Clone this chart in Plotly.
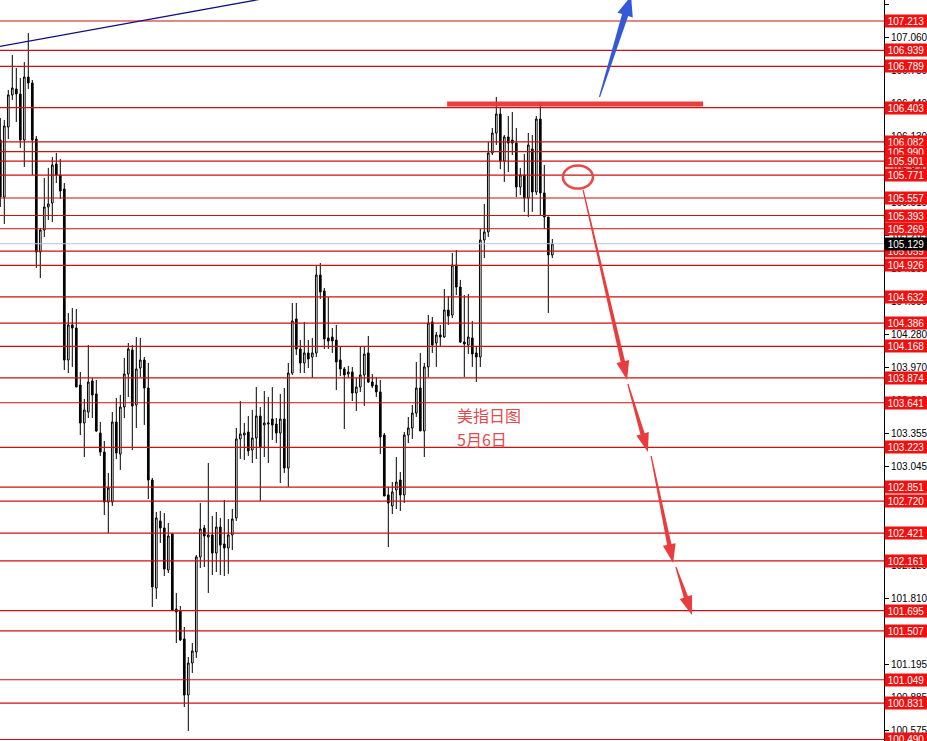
import math
import plotly.graph_objects as go

# ---------------- data ----------------
candle_index = list(range(139))

opens = [106.100, 105.566, 106.221, 106.521, 106.577, 106.530, 106.100, 106.689, 106.633, 106.109,
         105.052, 105.257, 105.473, 105.510, 105.875, 105.772, 105.641, 104.041, 104.369, 104.340,
         103.807, 103.452, 103.554, 103.845, 103.723, 103.358, 103.180, 102.712, 102.712, 103.461,
         103.161, 103.601, 103.910, 104.135, 103.620, 103.966, 104.041, 103.779, 102.918, 101.908,
         102.535, 102.469, 102.076, 102.413, 101.711, 101.692, 101.430, 100.906, 101.206, 101.309,
         102.198, 102.469, 102.385, 102.404, 102.235, 102.478, 102.319, 102.282, 102.404, 102.563,
         103.302, 103.339, 103.367, 103.199, 103.311, 103.517, 103.433, 103.442, 103.489, 103.442,
         103.358, 103.489, 103.030, 103.919, 104.425, 104.144, 104.013, 104.107, 104.069, 104.107,
         104.836, 104.687, 104.247, 104.256, 104.228, 104.041, 103.957, 103.910, 103.929, 103.732,
         103.788, 103.901, 104.107, 103.835, 103.807, 103.742, 103.339, 102.778, 102.675, 102.825,
         102.918, 102.778, 103.339, 103.405, 103.545, 103.779, 103.377, 103.976, 104.397, 104.200,
         104.275, 104.256, 104.509, 104.462, 104.930, 104.724, 104.209, 104.181, 104.247, 104.107,
         104.069, 105.164, 105.239, 105.978, 106.165, 106.343, 105.903, 106.128, 106.100, 106.071,
         105.660, 105.772, 105.557, 106.015, 105.613, 106.296, 105.604, 105.379, 105.024]

highs = [106.305, 106.287, 106.567, 106.895, 106.773, 106.680, 106.829, 107.101, 106.661, 106.137,
         105.276, 105.744, 105.838, 105.940, 105.978, 105.922, 105.697, 104.481, 104.528, 104.518,
         103.929, 103.676, 104.181, 103.873, 103.854, 103.461, 103.283, 102.984, 103.554, 103.685,
         103.714, 104.060, 104.200, 104.181, 104.256, 104.247, 104.069, 104.013, 102.937, 102.619,
         102.628, 102.609, 102.516, 102.422, 101.861, 101.739, 101.543, 101.262, 101.393, 102.216,
         102.703, 102.497, 103.077, 102.581, 102.619, 102.563, 102.731, 102.553, 102.647, 103.405,
         103.657, 103.452, 103.517, 103.573, 103.788, 103.601, 103.751, 103.695, 103.788, 103.498,
         103.723, 103.779, 104.013, 104.574, 104.574, 104.228, 104.397, 104.228, 104.247, 104.930,
         104.949, 104.715, 104.630, 104.340, 104.369, 104.172, 103.976, 103.985, 103.976, 103.873,
         104.163, 104.172, 104.266, 103.910, 103.882, 103.854, 103.358, 102.853, 102.899, 103.133,
         102.993, 103.367, 103.508, 103.620, 104.022, 104.107, 104.013, 104.462, 104.443, 104.303,
         104.369, 104.705, 104.640, 105.042, 105.070, 104.790, 104.649, 104.659, 104.406, 104.163,
         105.267, 105.501, 106.081, 106.212, 106.502, 106.399, 106.146, 106.324, 106.362, 106.212,
         105.838, 105.969, 106.165, 106.146, 106.324, 106.446, 105.866, 105.379, 105.173]

lows = [105.473, 105.314, 106.109, 106.474, 106.268, 106.025, 105.847, 106.577, 105.772, 104.902,
        104.808, 105.192, 105.351, 105.332, 105.697, 105.548, 103.947, 103.919, 103.976, 103.788,
        103.339, 103.133, 103.498, 103.498, 103.367, 103.143, 102.591, 102.422, 102.675, 103.115,
        103.012, 103.498, 103.695, 103.199, 103.405, 103.882, 103.433, 102.740, 101.730, 101.805,
        102.329, 102.020, 102.048, 101.692, 101.393, 101.412, 100.794, 100.570, 101.112, 101.253,
        102.095, 102.104, 101.861, 102.029, 102.057, 102.029, 102.020, 102.039, 102.263, 102.535,
        103.115, 103.105, 103.143, 103.077, 103.115, 102.722, 103.133, 103.077, 103.292, 103.264,
        102.890, 102.984, 102.853, 103.901, 104.088, 103.919, 103.919, 103.966, 103.873, 104.069,
        104.612, 104.144, 104.144, 104.107, 103.760, 103.891, 103.395, 103.873, 103.657, 103.564,
        103.742, 103.611, 103.826, 103.779, 103.695, 103.161, 102.768, 102.291, 102.600, 102.647,
        102.628, 102.703, 103.264, 103.302, 103.508, 103.377, 103.133, 103.882, 104.107, 103.976,
        104.172, 104.247, 104.369, 104.434, 104.649, 104.200, 103.882, 104.097, 103.976, 103.835,
        103.976, 104.995, 105.192, 105.959, 106.053, 105.828, 105.707, 105.800, 105.959, 105.566,
        105.585, 105.426, 105.379, 105.426, 105.585, 105.388, 105.267, 104.481, 104.995]

closes = [105.566, 106.231, 106.521, 106.586, 106.530, 106.100, 106.689, 106.633, 106.100, 105.052,
          105.257, 105.473, 105.501, 105.866, 105.772, 105.622, 104.041, 104.369, 104.340, 103.788,
          103.452, 103.573, 103.835, 103.714, 103.377, 103.180, 102.712, 102.843, 103.461, 103.171,
          103.601, 103.910, 104.144, 103.611, 103.957, 104.041, 103.779, 102.918, 101.917, 102.563,
          102.469, 102.085, 102.394, 101.702, 101.683, 101.421, 100.906, 101.206, 101.318, 102.198,
          102.460, 102.394, 102.404, 102.235, 102.478, 102.310, 102.282, 102.404, 102.553, 103.302,
          103.349, 103.358, 103.190, 103.311, 103.517, 103.227, 103.452, 103.452, 103.433, 103.358,
          103.489, 103.030, 103.919, 104.406, 104.144, 104.013, 104.107, 104.050, 104.107, 104.836,
          104.677, 104.238, 104.219, 104.219, 104.022, 103.957, 103.901, 103.929, 103.732, 103.788,
          103.901, 104.097, 103.835, 103.798, 103.742, 103.321, 102.768, 102.703, 102.806, 102.899,
          102.778, 103.339, 103.405, 103.545, 103.779, 103.377, 103.976, 104.387, 104.181, 104.275,
          104.256, 104.509, 104.453, 104.930, 104.724, 104.209, 104.191, 104.256, 104.097, 104.069,
          105.164, 105.239, 105.978, 106.165, 106.343, 105.903, 106.128, 106.071, 106.071, 105.660,
          105.772, 105.557, 106.053, 105.613, 106.296, 105.604, 105.379, 105.024, 105.129]

level_prices = [107.213, 106.939, 106.789, 106.403, 106.082, 105.990, 105.901, 105.771,
                105.557, 105.393, 105.269, 105.059, 104.926, 104.632, 104.386, 104.168,
                103.874, 103.641, 103.223, 102.851, 102.720, 102.421, 102.161, 101.695,
                101.507, 101.049, 100.831, 100.490]

tick_prices = [107.365, 107.060, 106.750, 106.440, 106.130, 105.820, 105.515, 105.205,
               104.895, 104.590, 104.280, 103.970, 103.660, 103.355, 103.045, 102.735,
               102.430, 102.120, 101.810, 101.505, 101.195, 100.885, 100.575]
tick_labels = ["107.365", "107.060", "106.750", "106.440", "106.130", "105.820", "105.515", "105.205",
               "104.895", "104.590", "104.280", "103.970", "103.660", "103.355", "103.045", "102.735",
               "102.430", "102.120", "101.810", "101.505", "101.195", "100.885", "100.575"]

last_price = 105.129
title_lines = ["美指日图", "5月6日"]

# hand-drawn markup, in (candle index, price)
trend_line = [(-1.0, 106.970), (80.0, 107.518)]
resistance_stroke = [(111.7, 106.436), (175.7, 106.436)]
blue_arrow = [(149.8, 106.502), (157.7, 107.447)]
red_arrows = [[(145.7, 105.632), (156.7, 103.854)],
              [(156.9, 103.816), (161.9, 103.180)],
              [(162.7, 103.143), (168.2, 102.141)],
              [(168.9, 102.104), (172.9, 101.655)]]
circle_center = (144.4, 105.753)
text_anchor = (113.7, 103.526, 103.302)

# ---------------- figure ----------------
X_RANGE = [-0.075, 220.925]
Y_RANGE = [100.4759, 107.4095]
PLOT_W, PLOT_H = 884, 741
SX = PLOT_W / (X_RANGE[1] - X_RANGE[0])
SY = PLOT_H / (Y_RANGE[1] - Y_RANGE[0])


def arrow_path(tail, tip, w0, w1, hl, hw):
    x0, y0 = tail[0] * SX, -tail[1] * SY
    x1, y1 = tip[0] * SX, -tip[1] * SY
    dx, dy = x1 - x0, y1 - y0
    L = math.hypot(dx, dy)
    ux, uy = dx / L, dy / L
    nx, ny = -uy, ux
    bx, by = x1 - ux * hl, y1 - uy * hl
    pts = [(x0 + nx * w0, y0 + ny * w0), (bx + nx * w1, by + ny * w1), (bx + nx * hw, by + ny * hw),
           (x1, y1), (bx - nx * hw, by - ny * hw), (bx - nx * w1, by - ny * w1),
           (x0 - nx * w0, y0 - ny * w0)]
    return "M " + " L ".join(f"{px / SX:.4f},{-py / SY:.5f}" for px, py in pts) + " Z"


fig = go.Figure()
fig.add_trace(go.Candlestick(
    x=candle_index, open=opens, high=highs, low=lows, close=closes,
    increasing=dict(line=dict(color="black", width=1), fillcolor="white"),
    decreasing=dict(line=dict(color="black", width=1), fillcolor="black"),
    whiskerwidth=0, hoverinfo="skip", showlegend=False,
))

shapes = []
shapes.append(dict(type="line", xref="paper", x0=0, x1=1, yref="y", y0=last_price, y1=last_price,
                   line=dict(color="#b8c4d8", width=1), layer="above"))
for v in level_prices:
    shapes.append(dict(type="line", xref="paper", x0=0, x1=1, yref="y", y0=v, y1=v,
                       line=dict(color="#cc1111", width=1.2), layer="above"))

shapes.append(dict(type="line", xref="x", yref="y", x0=trend_line[0][0], y0=trend_line[0][1],
                   x1=trend_line[1][0], y1=trend_line[1][1], line=dict(color="#10107a", width=1.2)))
shapes.append(dict(type="line", xref="x", yref="y", x0=resistance_stroke[0][0], y0=resistance_stroke[0][1],
                   x1=resistance_stroke[1][0], y1=resistance_stroke[1][1],
                   line=dict(color="rgba(234,52,52,0.95)", width=5)))
shapes.append(dict(type="path", xref="x", yref="y",
                   path=arrow_path(blue_arrow[0], blue_arrow[1], 0.6, 3.2, 20, 8),
                   fillcolor="#3558d8", line=dict(width=0)))
for seg in red_arrows:
    shapes.append(dict(type="path", xref="x", yref="y",
                       path=arrow_path(seg[0], seg[1], 0.6, 2.2, 19, 6.5),
                       fillcolor="#ea3c3c", line=dict(width=0)))
rx, ry = 15 / SX, 11.5 / SY
shapes.append(dict(type="circle", xref="x", yref="y",
                   x0=circle_center[0] - rx, x1=circle_center[0] + rx,
                   y0=circle_center[1] - ry, y1=circle_center[1] + ry,
                   line=dict(color="#e84848", width=2.5)))

annotations = []
label_font = dict(family="Liberation Sans, Arial, sans-serif", size=10, color="white")
for v in level_prices:
    annotations.append(dict(xref="paper", x=1, xanchor="left", yref="y", y=v, yanchor="middle",
                            text=f"{v:.3f}", showarrow=False, bgcolor="#f01010", font=label_font,
                            width=40, height=10, borderpad=1, align="center"))
annotations.append(dict(xref="paper", x=1, xanchor="left", yref="y", y=last_price, yanchor="middle",
                        text=f"{last_price:.3f}", showarrow=False, bgcolor="black", font=label_font,
                        width=40, height=10, borderpad=1, align="center"))
for txt, yy in zip(title_lines, text_anchor[1:]):
    annotations.append(dict(xref="x", x=text_anchor[0], xanchor="left", yref="y", y=yy, yanchor="middle",
                            text=txt, showarrow=False,
                            font=dict(family="Noto Sans CJK SC", size=16, color="#e4494b")))

fig.update_layout(
    width=927, height=741,
    margin=dict(l=0, r=43, t=0, b=0, pad=0, autoexpand=False),
    paper_bgcolor="white", plot_bgcolor="white",
    showlegend=False, boxgap=0.4,
    shapes=shapes, annotations=annotations,
    xaxis=dict(range=X_RANGE, visible=False, rangeslider=dict(visible=False),
               showgrid=False, zeroline=False, automargin=False),
    yaxis=dict(range=Y_RANGE, side="right", tickvals=tick_prices, ticktext=tick_labels,
               ticks="outside", ticklen=4, tickcolor="black", showline=True, linecolor="black",
               linewidth=1, showgrid=False, zeroline=False, automargin=False,
               tickfont=dict(family="Liberation Sans, Arial, sans-serif", size=10, color="black")),
)

fig.write_html("out.html", config={"displayModeBar": False},
               post_script="document.body.style.margin='0';document.body.style.overflow='hidden';")
